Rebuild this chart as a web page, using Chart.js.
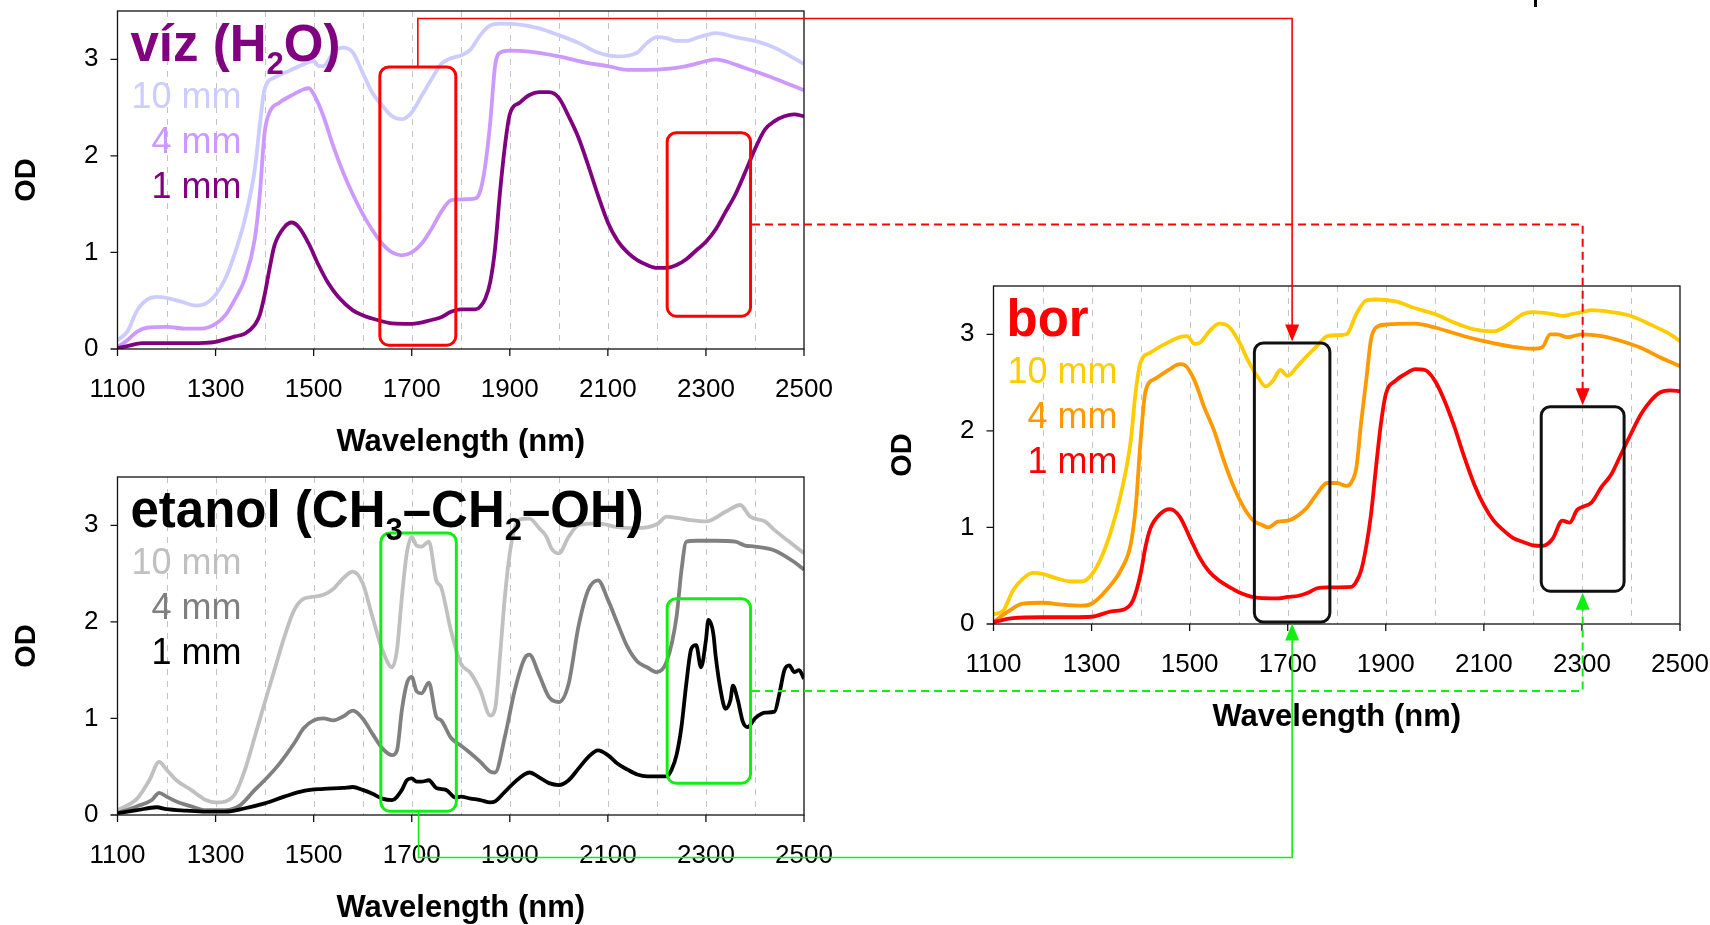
<!DOCTYPE html>
<html>
<head>
<meta charset="utf-8">
<title>NIR spectra – víz, etanol, bor</title>
<script src="https://cdn.jsdelivr.net/npm/chart.js@4.4.1/dist/chart.umd.min.js"></script>
<style>
  html, body { margin: 0; padding: 0; background: #fff; }
  body { width: 1710px; height: 925px; position: relative; overflow: hidden; }
  canvas { position: absolute; }
  #overlay { left: 0; top: 0; pointer-events: none; z-index: 5; }
</style>
</head>
<body>
<canvas id="chart-viz" width="834" height="470" style="left:0px;top:0px;width:834px;height:470px"></canvas>
<canvas id="chart-etanol" width="834" height="470" style="left:0px;top:466px;width:834px;height:470px"></canvas>
<canvas id="chart-bor" width="834" height="470" style="left:876px;top:275px;width:834px;height:470px"></canvas>
<canvas id="overlay" width="1710" height="925"></canvas>

<script>
// ── Data ───────────────────────────────────────────────────────────
// [wavelength nm, OD] pairs
const xTickLabels = [1100, 1300, 1500, 1700, 1900, 2100, 2300, 2500];
const yTickLabels = [0, 1, 2, 3];
const seriesLabels = ['10 mm', '4 mm', '1 mm'];

const viz1mm = [[1100,0.01],[1120,0.03],[1150,0.06],[1200,0.06],[1250,0.06],[1300,0.075],[1340,0.13],[1360,0.16],[1380,0.25],[1390,0.35],[1400,0.56],[1410,0.83],[1420,1.07],[1440,1.26],[1455,1.31],[1470,1.26],[1490,1.09],[1510,0.87],[1530,0.68],[1550,0.54],[1580,0.40],[1600,0.35],[1630,0.30],[1660,0.265],[1700,0.26],[1740,0.30],[1760,0.33],[1780,0.385],[1800,0.41],[1830,0.41],[1840,0.44],[1850,0.52],[1860,0.69],[1870,1.04],[1880,1.62],[1890,2.10],[1900,2.43],[1920,2.55],[1940,2.63],[1960,2.66],[1980,2.66],[2000,2.60],[2020,2.41],[2040,2.19],[2060,1.90],[2080,1.59],[2100,1.31],[2120,1.12],[2140,1.00],[2160,0.92],[2180,0.87],[2200,0.84],[2220,0.84],[2240,0.87],[2260,0.93],[2280,1.02],[2300,1.11],[2320,1.24],[2340,1.42],[2360,1.60],[2380,1.83],[2400,2.07],[2420,2.27],[2440,2.36],[2460,2.41],[2480,2.43],[2500,2.41]];
const viz4mm = [[1100,0.02],[1120,0.09],[1140,0.18],[1160,0.22],[1200,0.23],[1240,0.21],[1270,0.21],[1300,0.26],[1320,0.35],[1340,0.52],[1360,0.73],[1380,1.14],[1390,1.59],[1400,2.24],[1410,2.45],[1430,2.55],[1460,2.64],[1480,2.69],[1490,2.70],[1500,2.64],[1520,2.41],[1540,2.10],[1560,1.83],[1580,1.60],[1600,1.40],[1620,1.23],[1640,1.09],[1660,1.00],[1680,0.97],[1700,1.00],[1720,1.09],[1740,1.24],[1760,1.42],[1780,1.54],[1800,1.55],[1830,1.56],[1840,1.64],[1850,1.90],[1860,2.34],[1870,2.93],[1880,3.07],[1900,3.09],[1940,3.08],[2000,3.03],[2060,2.96],[2100,2.93],[2140,2.89],[2180,2.89],[2220,2.90],[2260,2.93],[2300,2.98],[2320,3.00],[2340,2.98],[2380,2.91],[2420,2.84],[2460,2.76],[2500,2.68]];
const viz10mm = [[1100,0.09],[1120,0.18],[1140,0.40],[1160,0.51],[1180,0.54],[1200,0.53],[1230,0.49],[1260,0.45],[1280,0.47],[1300,0.56],[1320,0.73],[1340,1.00],[1360,1.35],[1380,1.86],[1390,2.31],[1400,2.69],[1420,2.81],[1450,2.88],[1480,2.95],[1500,2.98],[1510,2.93],[1520,2.93],[1540,3.07],[1560,3.12],[1580,3.07],[1600,2.86],[1620,2.65],[1640,2.52],[1660,2.41],[1680,2.38],[1700,2.45],[1720,2.62],[1740,2.79],[1760,2.95],[1780,3.01],[1800,3.04],[1820,3.10],[1840,3.25],[1860,3.35],[1880,3.37],[1920,3.36],[1960,3.32],[2000,3.25],[2040,3.17],[2080,3.07],[2120,3.03],[2160,3.07],[2180,3.17],[2200,3.23],[2220,3.22],[2240,3.19],[2260,3.19],[2280,3.22],[2300,3.25],[2320,3.27],[2360,3.23],[2400,3.19],[2440,3.12],[2480,3.01],[2500,2.95]];

const etanol1mm = [[1100,0.02],[1140,0.05],[1180,0.08],[1200,0.06],[1240,0.045],[1280,0.035],[1320,0.035],[1360,0.07],[1400,0.12],[1440,0.19],[1480,0.25],[1520,0.27],[1560,0.28],[1580,0.29],[1600,0.26],[1620,0.22],[1640,0.17],[1660,0.155],[1680,0.26],[1690,0.36],[1700,0.38],[1710,0.345],[1720,0.345],[1735,0.36],[1750,0.28],[1770,0.26],[1790,0.18],[1800,0.19],[1820,0.17],[1840,0.155],[1860,0.13],[1870,0.14],[1890,0.24],[1910,0.34],[1930,0.42],[1940,0.44],[1960,0.39],[1980,0.33],[2000,0.31],[2020,0.36],[2040,0.48],[2060,0.60],[2080,0.67],[2100,0.62],[2120,0.53],[2140,0.47],[2160,0.42],[2180,0.40],[2200,0.40],[2220,0.40],[2230,0.47],[2240,0.62],[2250,0.91],[2260,1.36],[2270,1.72],[2280,1.76],[2290,1.53],[2300,1.81],[2305,2.02],[2315,1.88],[2320,1.64],[2330,1.29],[2340,1.10],[2350,1.19],[2355,1.34],[2365,1.19],[2375,0.97],[2385,0.91],[2400,1.00],[2420,1.06],[2440,1.07],[2450,1.26],[2460,1.50],[2470,1.55],[2480,1.48],[2490,1.50],[2500,1.41]];
const etanol4mm = [[1100,0.02],[1140,0.09],[1170,0.155],[1185,0.23],[1200,0.19],[1220,0.14],[1250,0.09],[1280,0.05],[1320,0.05],[1350,0.10],[1380,0.26],[1400,0.36],[1430,0.53],[1460,0.74],[1480,0.90],[1500,0.98],[1520,1.00],[1540,0.98],[1560,1.02],[1580,1.08],[1600,1.00],[1620,0.84],[1640,0.69],[1660,0.62],[1670,0.67],[1680,1.09],[1690,1.36],[1700,1.43],[1710,1.28],[1720,1.26],[1735,1.37],[1750,1.02],[1760,0.98],[1780,0.80],[1800,0.72],[1820,0.64],[1840,0.55],[1860,0.45],[1870,0.44],[1890,0.81],[1910,1.29],[1930,1.62],[1940,1.66],[1960,1.45],[1980,1.22],[2000,1.17],[2020,1.36],[2040,1.95],[2060,2.33],[2080,2.43],[2100,2.23],[2120,1.98],[2140,1.74],[2160,1.59],[2180,1.53],[2200,1.48],[2220,1.59],[2240,2.05],[2250,2.53],[2260,2.83],[2280,2.84],[2320,2.84],[2360,2.83],[2380,2.79],[2400,2.78],[2440,2.74],[2480,2.62],[2500,2.54]];
const etanol10mm = [[1100,0.05],[1140,0.17],[1165,0.36],[1185,0.55],[1200,0.47],[1220,0.36],[1250,0.26],[1280,0.155],[1300,0.13],[1320,0.14],[1340,0.22],[1360,0.47],[1380,0.81],[1400,1.16],[1420,1.50],[1440,1.84],[1460,2.12],[1480,2.24],[1500,2.26],[1520,2.28],[1540,2.34],[1560,2.45],[1580,2.52],[1600,2.40],[1620,2.05],[1640,1.71],[1660,1.53],[1670,1.71],[1680,2.26],[1690,2.71],[1700,2.88],[1710,2.79],[1720,2.78],[1735,2.83],[1750,2.43],[1760,2.36],[1780,1.91],[1800,1.57],[1820,1.47],[1840,1.29],[1860,1.03],[1870,1.10],[1880,1.64],[1890,2.26],[1900,2.71],[1910,2.97],[1920,3.06],[1940,3.07],[1960,2.97],[1975,2.88],[1985,2.76],[2000,2.71],[2020,2.88],[2040,3.00],[2080,3.02],[2120,2.98],[2160,2.97],[2200,3.01],[2220,3.09],[2260,3.06],[2300,3.04],[2340,3.14],[2370,3.21],[2390,3.09],[2420,3.04],[2440,2.95],[2470,2.83],[2500,2.71]];

const bor1mm = [[1100,0.02],[1140,0.06],[1200,0.07],[1260,0.07],[1300,0.075],[1340,0.13],[1370,0.16],[1385,0.25],[1400,0.52],[1410,0.80],[1420,0.99],[1440,1.14],[1460,1.19],[1480,1.11],[1500,0.90],[1520,0.69],[1540,0.54],[1560,0.45],[1580,0.385],[1600,0.33],[1640,0.27],[1680,0.265],[1700,0.28],[1720,0.29],[1740,0.32],[1760,0.37],[1780,0.38],[1830,0.385],[1840,0.44],[1850,0.56],[1860,0.80],[1870,1.14],[1880,1.62],[1890,2.07],[1900,2.38],[1920,2.52],[1940,2.59],[1960,2.64],[1980,2.63],[2000,2.52],[2020,2.31],[2040,2.04],[2060,1.73],[2080,1.45],[2100,1.23],[2120,1.07],[2140,0.97],[2160,0.89],[2180,0.85],[2200,0.815],[2220,0.81],[2240,0.88],[2260,1.07],[2275,1.05],[2290,1.18],[2300,1.21],[2320,1.26],[2340,1.42],[2360,1.55],[2380,1.76],[2400,1.97],[2420,2.17],[2440,2.31],[2460,2.40],[2480,2.42],[2500,2.41]];
const bor4mm = [[1100,0.02],[1130,0.13],[1160,0.21],[1200,0.22],[1240,0.20],[1280,0.19],[1300,0.21],[1330,0.35],[1360,0.56],[1380,0.83],[1390,1.21],[1400,1.90],[1410,2.41],[1430,2.54],[1460,2.64],[1480,2.69],[1490,2.68],[1510,2.52],[1530,2.24],[1550,2.00],[1570,1.69],[1590,1.42],[1610,1.21],[1630,1.07],[1650,1.02],[1660,1.00],[1680,1.06],[1700,1.07],[1720,1.12],[1740,1.21],[1760,1.35],[1780,1.46],[1800,1.46],[1820,1.43],[1830,1.47],[1840,1.62],[1850,2.10],[1860,2.52],[1870,2.95],[1880,3.07],[1900,3.10],[1960,3.11],[2000,3.07],[2060,2.98],[2100,2.93],[2160,2.87],[2200,2.85],[2220,2.87],[2235,3.00],[2250,3.00],[2270,2.97],[2300,3.00],[2340,2.98],[2380,2.93],[2420,2.86],[2460,2.76],[2500,2.67]];
const bor10mm = [[1100,0.10],[1120,0.14],[1140,0.35],[1160,0.47],[1180,0.53],[1200,0.52],[1230,0.47],[1260,0.44],[1280,0.44],[1300,0.51],[1320,0.69],[1340,0.97],[1360,1.35],[1380,1.90],[1390,2.41],[1400,2.71],[1420,2.81],[1450,2.90],[1480,2.97],[1495,2.98],[1510,2.90],[1520,2.91],[1540,3.03],[1560,3.11],[1580,3.08],[1600,2.93],[1620,2.72],[1640,2.55],[1655,2.46],[1670,2.52],[1685,2.63],[1700,2.57],[1720,2.67],[1740,2.78],[1760,2.88],[1780,2.98],[1800,2.99],[1820,3.00],[1840,3.21],[1860,3.35],[1880,3.36],[1920,3.34],[1960,3.27],[2000,3.21],[2040,3.12],[2080,3.05],[2120,3.03],[2140,3.07],[2160,3.14],[2180,3.21],[2200,3.23],[2240,3.21],[2260,3.19],[2280,3.21],[2300,3.23],[2320,3.25],[2360,3.23],[2400,3.19],[2440,3.10],[2480,3.00],[2500,2.93]];

// highlighted regions: [from nm, to nm, OD low, OD high]
const vizBoxes = [[1635, 1790, 0.04, 2.92], [2221, 2391, 0.34, 2.24]];
const etanolBoxes = [[1637, 1791, 0.04, 2.92], [2221, 2391, 0.33, 2.24]];
const borBoxes = [[1632, 1786, 0.02, 2.91], [2217, 2386, 0.34, 2.25]];

// ── Styling ────────────────────────────────────────────────────────
const FONT = '"Liberation Sans", Arial, sans-serif';
const GREEN = '#11ee11';
const RED = '#ff0000';

// ── Panel plugin: grid, frame, ticks, highlight boxes, titles ──────
function roundRect(ctx, x, y, w, h, r) {
  ctx.beginPath();
  ctx.moveTo(x + r, y);
  ctx.arcTo(x + w, y, x + w, y + h, r);
  ctx.arcTo(x + w, y + h, x, y + h, r);
  ctx.arcTo(x, y + h, x, y, r);
  ctx.arcTo(x, y, x + w, y, r);
  ctx.closePath();
}

const panelPlugin = {
  id: 'panel',
  beforeDatasetsDraw: function (chart) {
    const ctx = chart.ctx;
    const a = chart.chartArea;
    const xs = chart.scales.x;
    ctx.save();
    ctx.strokeStyle = '#c4c4c4';
    ctx.lineWidth = 1;
    ctx.setLineDash([6, 6]);
    ctx.beginPath();
    for (let w = 1200; w < 2500; w += 100) {
      const x = Math.round(xs.getPixelForValue(w)) + 0.5;
      ctx.moveTo(x, a.top);
      ctx.lineTo(x, a.bottom);
    }
    ctx.stroke();
    ctx.restore();
  },
  afterDatasetsDraw: function (chart, args, opts) {
    const ctx = chart.ctx;
    const a = chart.chartArea;
    const xs = chart.scales.x;
    const ys = chart.scales.y;
    ctx.save();

    // frame + tick marks
    ctx.strokeStyle = '#111';
    ctx.lineWidth = 1.3;
    ctx.strokeRect(a.left, a.top, a.right - a.left, a.bottom - a.top);
    ctx.beginPath();
    xTickLabels.forEach(function (w) {
      const x = xs.getPixelForValue(w);
      ctx.moveTo(x, a.bottom);
      ctx.lineTo(x, a.bottom + 7);
    });
    yTickLabels.forEach(function (v) {
      const y = ys.getPixelForValue(v);
      ctx.moveTo(a.left, y);
      ctx.lineTo(a.left - 7, y);
    });
    ctx.stroke();

    // highlight boxes
    ctx.strokeStyle = opts.boxColor;
    ctx.lineWidth = 3;
    opts.boxes.forEach(function (b) {
      const x0 = xs.getPixelForValue(b[0]);
      const x1 = xs.getPixelForValue(b[1]);
      const y0 = ys.getPixelForValue(b[3]);
      const y1 = ys.getPixelForValue(b[2]);
      roundRect(ctx, x0, y0, x1 - x0, y1 - y0, 9);
      ctx.stroke();
    });

    // title with subscripts
    let tx = a.left + 13;
    const ty = a.top + 50;
    ctx.fillStyle = opts.titleColor;
    ctx.textBaseline = 'alphabetic';
    ctx.textAlign = 'left';
    opts.title.forEach(function (part) {
      ctx.font = part[1] ? 'bold 31px ' + FONT : 'bold 51px ' + FONT;
      ctx.fillText(part[0], tx, part[1] ? ty + 13 : ty);
      tx += ctx.measureText(part[0]).width;
    });

    // series labels
    ctx.font = '36px ' + FONT;
    ctx.textAlign = 'right';
    const baselines = [97, 142, 186.5];
    seriesLabels.forEach(function (lbl, i) {
      ctx.fillStyle = opts.labelColors[i];
      ctx.fillText(lbl, a.left + 124, a.top + baselines[i]);
    });

    ctx.restore();
  },
};

// ── Chart factory ──────────────────────────────────────────────────
function pts(pairs) {
  return pairs.map(function (p) { return { x: p[0], y: p[1] }; });
}

function makePanel(id, series, colors, panelOpts) {
  const datasets = [];
  // 1 mm first so it is painted on top
  [2, 1, 0].forEach(function (i) {
    datasets.push({
      label: seriesLabels[i],
      data: pts(series[i]),
      borderColor: colors[i],
      borderWidth: 3.8,
      pointRadius: 0,
      fill: false,
      cubicInterpolationMode: 'monotone',
    });
  });

  return new Chart(document.getElementById(id), {
    type: 'line',
    data: { datasets: datasets },
    plugins: [panelPlugin],
    options: {
      responsive: false,
      devicePixelRatio: 1,
      animation: false,
      layout: { padding: { top: 11, right: 30, left: 0, bottom: 0 } },
      plugins: {
        legend: { display: false },
        tooltip: { enabled: false },
        panel: panelOpts,
      },
      scales: {
        x: {
          type: 'linear',
          min: 1100,
          max: 2500,
          grid: { display: false },
          border: { display: false },
          ticks: {
            stepSize: 200,
            autoSkip: false,
            maxRotation: 0,
            padding: 17,
            color: '#000',
            font: { family: FONT, size: 26 },
            callback: function (v) { return String(v); },
          },
          title: {
            display: true,
            text: 'Wavelength (nm)',
            color: '#000',
            font: { family: FONT, size: 31, weight: 'bold' },
            padding: { top: 0, bottom: 9 },
          },
          afterFit: function (scale) {
            scale.height = 121;
            scale.paddingLeft = 0;
            scale.paddingRight = 0;
          },
        },
        y: {
          min: 0,
          max: 3.5,
          grid: { display: false },
          border: { display: false },
          ticks: {
            stepSize: 1,
            padding: 11,
            color: '#000',
            font: { family: FONT, size: 26 },
            callback: function (v) { return String(v); },
          },
          afterBuildTicks: function (scale) {
            scale.ticks = scale.ticks.filter(function (t) { return yTickLabels.indexOf(t.value) !== -1; });
          },
          title: {
            display: true,
            text: 'OD',
            color: '#000',
            font: { family: FONT, size: 29, weight: 'bold' },
            padding: { top: 9.6, bottom: 0 },
          },
          afterFit: function (scale) {
            scale.width = 117.5;
            scale.paddingTop = 0;
            scale.paddingBottom = 0;
          },
        },
      },
    },
  });
}

// ── Build the three panels ─────────────────────────────────────────
const vizChart = makePanel('chart-viz', [viz10mm, viz4mm, viz1mm],
  ['#ccccff', '#cc99ff', '#800080'], {
    title: [['víz (H', 0], ['2', 1], ['O)', 0]],
    titleColor: '#800080',
    labelColors: ['#ccccff', '#cc99ff', '#800080'],
    boxes: vizBoxes,
    boxColor: RED,
  });

const etanolChart = makePanel('chart-etanol', [etanol10mm, etanol4mm, etanol1mm],
  ['#c0c0c0', '#808080', '#000000'], {
    title: [['etanol (CH', 0], ['3', 1], ['–CH', 0], ['2', 1], ['–OH)', 0]],
    titleColor: '#000000',
    labelColors: ['#c0c0c0', '#808080', '#000000'],
    boxes: etanolBoxes,
    boxColor: GREEN,
  });

const borChart = makePanel('chart-bor', [bor10mm, bor4mm, bor1mm],
  ['#ffcc00', '#ff9900', '#ff0000'], {
    title: [['bor', 0]],
    titleColor: '#ff0000',
    labelColors: ['#ffcc00', '#ff9900', '#ff0000'],
    boxes: borBoxes,
    boxColor: '#111111',
  });

// ── Connector arrows between panels ────────────────────────────────
function boxOnPage(chart, box) {
  const c = chart.canvas;
  const ox = c.offsetLeft;
  const oy = c.offsetTop;
  const xs = chart.scales.x;
  const ys = chart.scales.y;
  const l = ox + xs.getPixelForValue(box[0]);
  const r = ox + xs.getPixelForValue(box[1]);
  const t = oy + ys.getPixelForValue(box[3]);
  const b = oy + ys.getPixelForValue(box[2]);
  return { l: l, r: r, t: t, b: b, cx: (l + r) / 2, cy: (t + b) / 2 };
}

function arrowHead(ctx, x, tipY, dir, color) {
  // dir 1 = pointing down, -1 = pointing up
  ctx.save();
  ctx.setLineDash([]);
  ctx.fillStyle = color;
  ctx.beginPath();
  ctx.moveTo(x, tipY);
  ctx.lineTo(x - 7, tipY - dir * 17);
  ctx.lineTo(x + 7, tipY - dir * 17);
  ctx.closePath();
  ctx.fill();
  ctx.restore();
}

function polyline(ctx, points, color, width, dash) {
  ctx.save();
  ctx.strokeStyle = color;
  ctx.lineWidth = width;
  ctx.setLineDash(dash || []);
  ctx.beginPath();
  ctx.moveTo(points[0][0], points[0][1]);
  for (let i = 1; i < points.length; i++) ctx.lineTo(points[i][0], points[i][1]);
  ctx.stroke();
  ctx.restore();
}

function drawConnectors() {
  const ctx = document.getElementById('overlay').getContext('2d');
  const topLane = 18.5;
  const bottomLane = 857.5;

  const vA = boxOnPage(vizChart, vizBoxes[0]);
  const vB = boxOnPage(vizChart, vizBoxes[1]);
  const eA = boxOnPage(etanolChart, etanolBoxes[0]);
  const eB = boxOnPage(etanolChart, etanolBoxes[1]);
  const bA = boxOnPage(borChart, borBoxes[0]);
  const bB = boxOnPage(borChart, borBoxes[1]);

  // víz 1700 nm region -> bor 1700 nm region
  polyline(ctx, [[vA.cx, vA.t], [vA.cx, topLane], [bA.cx, topLane], [bA.cx, bA.t - 16]], RED, 1.6);
  arrowHead(ctx, bA.cx, bA.t - 1.5, 1, RED);

  // víz 2300 nm region -> bor 2300 nm region (dashed)
  polyline(ctx, [[vB.r + 1.5, vB.cy], [bB.cx, vB.cy], [bB.cx, bB.t - 16]], RED, 2, [8, 5]);
  arrowHead(ctx, bB.cx, bB.t - 1.5, 1, RED);

  // etanol 1700 nm region -> bor 1700 nm region
  polyline(ctx, [[eA.cx, eA.b], [eA.cx, bottomLane], [bA.cx, bottomLane], [bA.cx, bA.b + 16]], GREEN, 1.6);
  arrowHead(ctx, bA.cx, bA.b + 1.5, -1, GREEN);

  // etanol 2300 nm region -> bor 2300 nm region (dashed)
  polyline(ctx, [[eB.r + 1.5, eB.cy], [bB.cx, eB.cy], [bB.cx, bB.b + 16]], GREEN, 2, [8, 5]);
  arrowHead(ctx, bB.cx, bB.b + 1.5, -1, GREEN);

  // small cropped mark at the top edge
  ctx.fillStyle = '#000';
  ctx.fillRect(1534, 0, 3, 7);
}

drawConnectors();
</script>
</body>
</html>
